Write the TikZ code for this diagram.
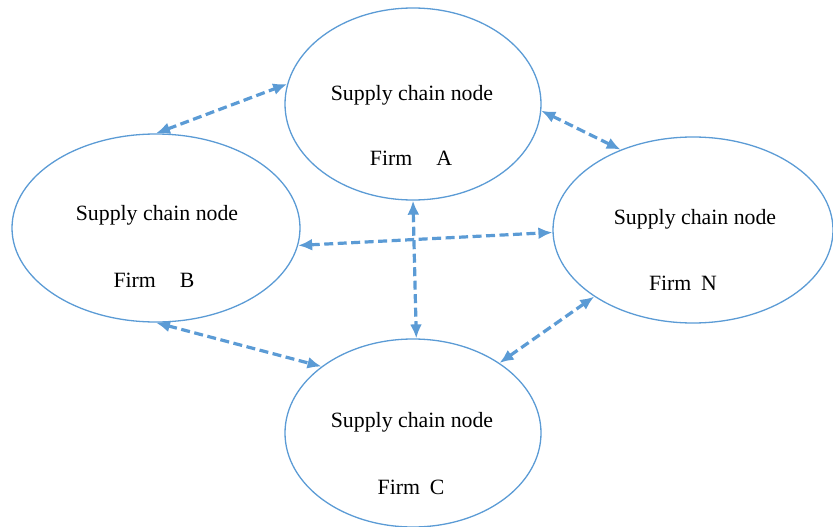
\documentclass[tikz,border=0pt]{standalone}
\usepackage{fontspec}
\setmainfont{Liberation Serif}
\usetikzlibrary{shapes.geometric,arrows.meta}
\definecolor{lineblue}{RGB}{91,155,213}
\begin{document}
\begin{tikzpicture}[x=1pt,y=-1pt,
  firm/.style={ellipse,draw=lineblue,line width=1.3pt,inner sep=0pt},
  lbl/.style={anchor=base,inner sep=0pt,font=\fontsize{21.8}{26}\selectfont},
  link/.style={draw=lineblue,line width=3.2pt,dash pattern=on 9pt off 4.5pt,
    {Latex[length=14pt,width=12pt]}-{Latex[length=14pt,width=12pt]}}]
\useasboundingbox (0,0) rectangle (833,527);
\node[firm,minimum width=256pt,minimum height=192pt] (A) at (413,104) {};
\node[firm,minimum width=288pt,minimum height=188pt] (B) at (156,228) {};
\node[firm,minimum width=280pt,minimum height=186pt] (N) at (693,230) {};
\node[firm,minimum width=256pt,minimum height=188pt] (C) at (413,433) {};
\node[lbl] (a1) at (412,100) {Supply chain node};
\node[lbl] (a2) at (411,165) {Firm\hspace{1.1em}A};
\node[lbl] (b1) at (157,220) {Supply chain node};
\node[lbl] (b2) at (154,287) {Firm\hspace{1.1em}B};
\node[lbl] (n1) at (695,224) {Supply chain node};
\node[lbl] (n2) at (683,290) {Firm\hspace{0.45em}N};
\node[lbl] (c1) at (412,427) {Supply chain node};
\node[lbl] (c2) at (411,494) {Firm\hspace{0.45em}C};
\draw[link] (B.90) -- (A.171);
\draw[link] (A.-3) -- (N.132);
\draw[link] (B.-7) -- (N.181);
\draw[link] (A.south) -- (C.88);
\draw[link] (N.214) -- (C.39);
\draw[link] (B.-90) -- (C.144);
\end{tikzpicture}
\end{document}
